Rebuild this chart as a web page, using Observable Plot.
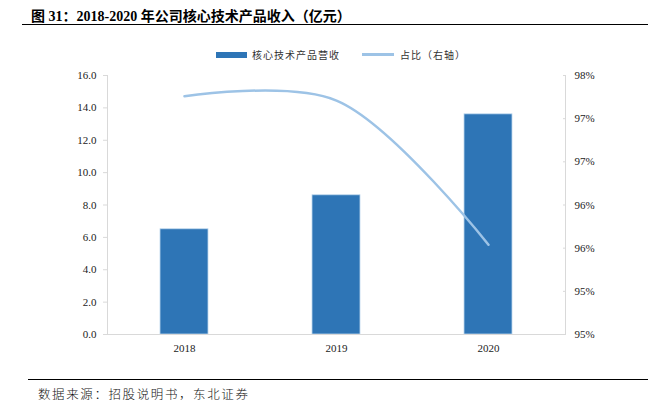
<!DOCTYPE html>
<html>
<head>
<meta charset="utf-8">
<script src="https://cdn.jsdelivr.net/npm/d3@7"></script>
<script src="https://cdn.jsdelivr.net/npm/@observablehq/plot@0.6"></script>
<style>
  body { margin: 0; background: #fff; }
  #wrap { position: relative; width: 648px; height: 412px; overflow: hidden; background: #fff; }
  #title { position: absolute; left: 31px; top: 5px; font-family: "Liberation Serif", "Noto Sans CJK SC", serif; font-weight: bold; font-size: 14px; color: #000; white-space: nowrap; }
  #titleLine { position: absolute; left: 22px; right: 0; top: 24px; border-top: 1.3px solid #000; }
  #legend { position: absolute; top: 47px; left: 216px; font-family: "Noto Sans CJK SC", sans-serif; font-size: 10px; letter-spacing: 1px; color: #333; display: flex; align-items: center; white-space: nowrap; }
  .sw-bar { width: 31px; height: 6px; background: #2E75B6; margin-right: 5px; }
  .sw-line { width: 32px; height: 2.5px; background: #9DC3E6; margin-left: 22px; margin-right: 6px; }
  #chart { position: absolute; top: 60px; left: 0; }
  #footLine { position: absolute; left: 28px; right: 0; top: 379px; border-top: 1px solid #000; }
  #foot { position: absolute; left: 38px; top: 384px; font-family: "Noto Sans CJK SC", sans-serif; font-weight: 300; font-size: 12.5px; letter-spacing: 1.6px; color: #111; white-space: nowrap; }
</style>
</head>
<body>
<div id="wrap">
  <div id="title">图 31：2018-2020 年公司核心技术产品收入（亿元）</div>
  <div id="titleLine"></div>
  <div id="legend"><span class="sw-bar"></span><span>核心技术产品营收</span><span class="sw-line"></span><span>占比（右轴）</span></div>
  <div id="chart"></div>
  <div id="footLine"></div>
  <div id="foot">数据来源：招股说明书，东北证券</div>
</div>
<script>
const years = ["2018", "2019", "2020"];
const revenue = [6.5, 8.6, 13.6];
const share = [97.56, 97.51, 95.84];
const leftTicks = [0, 2, 4, 6, 8, 10, 12, 14, 16];
const rightTicks = [94.8, 95.3, 95.8, 96.3, 96.8, 97.3, 97.8];

const rightMin = 94.8, rightMax = 97.8, leftMax = 16;
const toLeft = v => (v - rightMin) / (rightMax - rightMin) * leftMax;
const fromLeft = v => v / leftMax * (rightMax - rightMin) + rightMin;

const data = years.map((y, i) => ({year: y, revenue: revenue[i], share: share[i]}));

const axisColor = "#D9D9D9";
const chart = Plot.plot({
  width: 648,
  height: 300,
  marginTop: 15,
  marginBottom: 26,
  marginLeft: 107,
  marginRight: 83,
  style: {fontFamily: "'Liberation Serif', serif", fontSize: "11px", color: "#222", background: "#fff"},
  x: {domain: years, paddingInner: 0.686, paddingOuter: 0.343},
  y: {domain: [0, leftMax]},
  marks: [
    Plot.barY(data, {x: "year", y: "revenue", fill: "#2E75B6", stroke: "#BDD7EE", strokeWidth: 0.8}),
    Plot.frame({anchor: "left", stroke: axisColor}),
    Plot.frame({anchor: "right", stroke: axisColor}),
    Plot.ruleY([0], {stroke: axisColor}),
    Plot.line(data, {x: "year", y: d => toLeft(d.share), stroke: "#9DC3E6", strokeWidth: 2.5, curve: "catmull-rom"}),
    Plot.axisX({tickSize: 0, tickPadding: 10, label: null}),
    Plot.axisY(leftTicks, {anchor: "left", tickSize: 4, tickPadding: 7, stroke: axisColor, tickFormat: d3.format(".1f"), label: null}),
    Plot.axisY(rightTicks.map(toLeft), {anchor: "right", tickSize: -3, tickPadding: 12, stroke: axisColor, tickFormat: d => Math.round(fromLeft(d)) + "%", label: null})
  ]
});
document.getElementById("chart").appendChild(chart);
</script>
</body>
</html>
